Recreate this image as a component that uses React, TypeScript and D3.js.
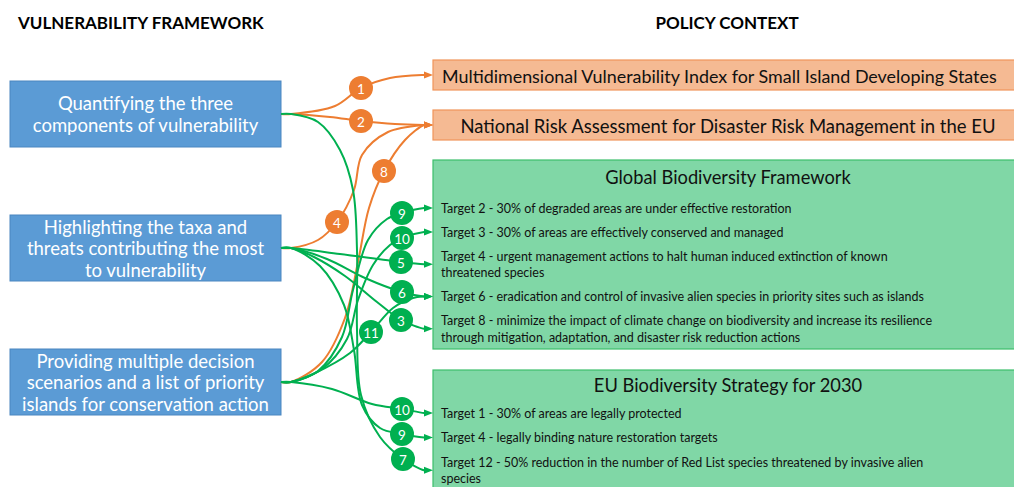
import React from "react";
import * as d3 from "d3";

const W = 1014;
const H = 487;

// left column: the three outputs of the vulnerability framework
const frameworkItems: string[][] = [
  ["Quantifying the three", "components of vulnerability"],
  ["Highlighting the taxa and", "threats contributing the most", "to vulnerability"],
  ["Providing multiple decision", "scenarios and a list of priority", "islands for conservation action"],
];

// right column: policy instruments
const policyIndices = [
  "Multidimensional Vulnerability Index for Small Island Developing States",
  "National Risk Assessment for Disaster Risk Management in the EU",
];

const gbfTitle = "Global Biodiversity Framework";
const gbfTargets: string[][] = [
  ["Target 2 - 30% of degraded areas are under effective restoration"],
  ["Target 3 - 30% of areas are effectively conserved and managed"],
  ["Target 4 - urgent management actions to halt human induced extinction of known", "threatened species"],
  ["Target 6 - eradication and control of invasive alien species in priority sites such as islands"],
  ["Target 8 - minimize the impact of climate change on biodiversity and increase its resilience", "through mitigation, adaptation, and disaster risk reduction actions"],
];

const euTitle = "EU Biodiversity Strategy for 2030";
const euTargets: string[][] = [
  ["Target 1 - 30% of areas are legally protected"],
  ["Target 4 - legally binding nature restoration targets"],
  ["Target 12 - 50% reduction in the number of Red List species threatened by invasive alien", "species"],
];

// connections: framework item -> numbered badge -> policy target
const linkFrom = [0, 0, 1, 2, 0, 1, 2, 2, 2, 1, 1, 1, 2];
const linkLabel = ["1", "2", "4", "8", "7", "9", "10", "9", "10", "5", "6", "3", "11"];
const linkTo = ["p0", "p1", "p1", "p1", "e2", "e1", "e0", "g0", "g1", "g2", "g3", "g4", "g3"];
const linkKind = ["risk", "risk", "risk", "risk", "bio", "bio", "bio", "bio", "bio", "bio", "bio", "bio", "bio"];

// hand-traced routing of each connector (layout only)
const routes: { pre: [number, number][]; badge: [number, number]; post: [number, number][] }[] = [
  { pre: [[335, 106]], badge: [361, 88], post: [[390, 78]] },
  { pre: [[330, 117]], badge: [361, 121], post: [[395, 124]] },
  { pre: [[318, 240]], badge: [337, 222], post: [[354, 190], [362, 155], [388, 132]] },
  { pre: [[322, 362], [345, 318], [358, 262], [369, 208]], badge: [384, 171], post: [[405, 140]] },
  { pre: [[318, 122], [340, 150], [353, 190], [357, 250], [357, 330], [361, 395], [380, 437]], badge: [403, 459], post: [] },
  { pre: [[320, 266], [344, 305], [354, 350], [362, 405], [380, 428]], badge: [402, 434], post: [] },
  { pre: [[332, 389], [372, 404]], badge: [402, 409], post: [] },
  { pre: [[318, 371], [342, 337], [353, 290], [368, 240], [387, 219]], badge: [402, 213], post: [] },
  { pre: [[322, 369], [347, 339], [358, 300], [373, 265], [390, 245]], badge: [402, 238], post: [] },
  { pre: [[340, 254]], badge: [401, 262], post: [] },
  { pre: [[327, 259], [365, 278]], badge: [402, 292], post: [] },
  { pre: [[314, 257], [345, 276], [377, 302]], badge: [401, 320], post: [] },
  { pre: [[315, 373], [350, 353]], badge: [371, 332], post: [[393, 308], [413, 298]] },
];

const COLORS: Record<string, string> = { risk: "#ED7D31", bio: "#00B050" };
const FONT = "Lato, 'Open Sans', sans-serif";

const rows = (items: string[][], firstY: number, gap: number, lh: number) => {
  let y = firstY;
  return items.map((lines) => {
    const r = { lines, y, mid: y + ((lines.length - 1) * lh) / 2 };
    y += (lines.length - 1) * lh + gap;
    return r;
  });
};

export default function App() {
  const boxX = 10;
  const boxW = 271;
  const boxH = 66;
  const leftY = d3.scalePoint<number>().domain(d3.range(frameworkItems.length)).range([114, 382]);

  const rx = 433;
  const rw = 600;
  const policyY = d3.scalePoint<number>().domain(d3.range(policyIndices.length)).range([75, 125]);
  const lh = 16.5;
  const gbfRows = rows(gbfTargets, 208, 24, lh);
  const euRows = rows(euTargets, 413, 24.5, lh);

  const targetY: Record<string, number> = {};
  policyIndices.forEach((_, i) => (targetY["p" + i] = policyY(i)!));
  gbfRows.forEach((r, i) => (targetY["g" + i] = r.mid));
  euRows.forEach((r, i) => (targetY["e" + i] = r.mid));

  const line = d3.line().curve(d3.curveCatmullRom.alpha(0.5));

  const paths = linkFrom.map((f, i) => {
    const sy = leftY(f)!;
    const sx = boxX + boxW;
    const ty = targetY[linkTo[i]];
    const r = routes[i];
    const pts: [number, number][] = [
      [sx, sy],
      [sx + 10, sy],
      ...r.pre,
      r.badge,
      ...r.post,
      [rx - 9, ty],
      [rx - 6, ty],
    ];
    return { d: line(pts)!, color: COLORS[linkKind[i]], ty };
  });

  return (
    <div style={{ position: "absolute", left: 0, top: 0 }}>
      <svg width={W} height={H} style={{ display: "block", fontFamily: FONT }}>
        <rect width={W} height={H} fill="#fff" />
        <text x={18} y={29} fontSize={17} fontWeight={700} fill="#000">VULNERABILITY FRAMEWORK</text>
        <text x={727} y={29} fontSize={17} fontWeight={700} fill="#000" textAnchor="middle">POLICY CONTEXT</text>

        {frameworkItems.map((lines, i) => (
          <g key={`fw/${i}`}>
            <rect x={boxX} y={leftY(i)! - boxH / 2} width={boxW} height={boxH} fill="#5B9BD5" stroke="#4A86C0" strokeWidth={1} />
            {lines.map((t, j) => (
              <text
                key={j}
                x={boxX + boxW / 2}
                y={leftY(i)! + (j - (lines.length - 1) / 2) * 21.5}
                fill="#fff"
                fontSize={18.5}
                textAnchor="middle"
                dominantBaseline="central"
              >
                {t}
              </text>
            ))}
          </g>
        ))}

        {policyIndices.map((t, i) => (
          <g key={`pol/${i}`}>
            <rect x={rx} y={policyY(i)! - 15} width={rw} height={30} fill="#F5BA93" stroke="#F0955A" strokeWidth={1.2} />
            <text
              x={i === 0 ? rx + 9 : rx + 295}
              y={policyY(i)! + 1}
              fontSize={i === 0 ? 17.9 : 18.5}
              fill="#111"
              textAnchor={i === 0 ? "start" : "middle"}
              dominantBaseline="central"
            >
              {t}
            </text>
          </g>
        ))}

        <rect x={rx} y={160} width={rw} height={189} fill="#80D7A6" stroke="#3DBE6C" strokeWidth={1.2} />
        <text x={728} y={177} fontSize={18.3} fill="#111" textAnchor="middle" dominantBaseline="central">{gbfTitle}</text>
        {gbfRows.map((r, i) =>
          r.lines.map((t, j) => (
            <text key={`g/${i}/${j}`} x={441} y={r.y + j * lh} fontSize={12.5} fill="#111" dominantBaseline="central">{t}</text>
          ))
        )}

        <rect x={rx} y={370} width={rw} height={130} fill="#80D7A6" stroke="#3DBE6C" strokeWidth={1.2} />
        <text x={728} y={385} fontSize={18.3} fill="#111" textAnchor="middle" dominantBaseline="central">{euTitle}</text>
        {euRows.map((r, i) =>
          r.lines.map((t, j) => (
            <text key={`e/${i}/${j}`} x={441} y={r.y + j * lh} fontSize={12.5} fill="#111" dominantBaseline="central">{t}</text>
          ))
        )}

        {paths.map((p, i) => (
          <g key={`link/${i}`}>
            <path d={p.d} fill="none" stroke={p.color} strokeWidth={2} />
            <path d={`M${rx},${p.ty}L${rx - 9},${p.ty - 3.5}L${rx - 9},${p.ty + 3.5}Z`} fill={p.color} />
          </g>
        ))}

        {routes.map((r, i) => (
          <g key={`badge/${i}`} transform={`translate(${r.badge[0]},${r.badge[1]})`}>
            <circle r={12} fill={COLORS[linkKind[i]]} />
            <text fontSize={13.5} fill="#fff" textAnchor="middle" dominantBaseline="central" y={0.5}>{linkLabel[i]}</text>
          </g>
        ))}
      </svg>
    </div>
  );
}
